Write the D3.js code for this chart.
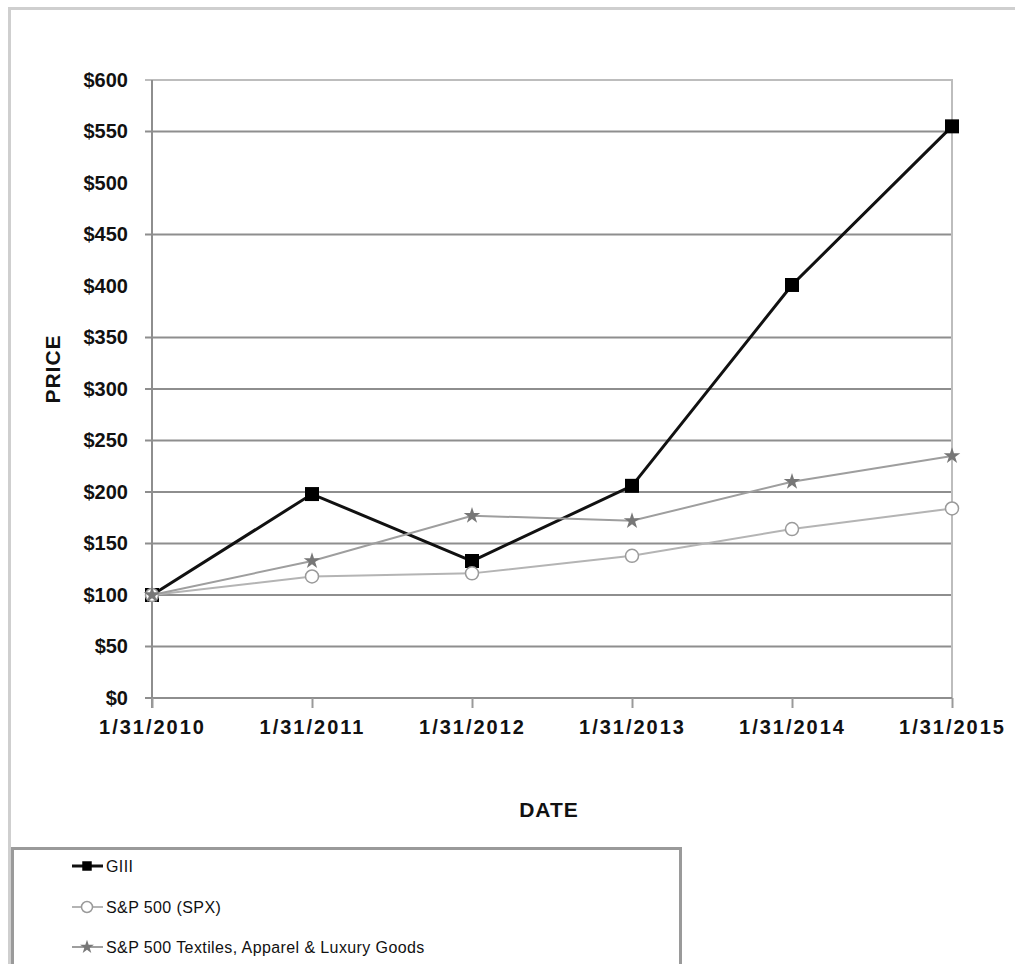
<!DOCTYPE html>
<html>
<head>
<meta charset="utf-8">
<script src="https://cdn.jsdelivr.net/npm/d3@7"></script>
<style>
  body { margin: 0; background: #fff; }
  svg text { font-family: "Liberation Sans", Arial, sans-serif; fill: #111; }
  .tick text { font-size: 20px; font-weight: bold; }
  .axisTitle { font-size: 21px; font-weight: bold; letter-spacing: 1px; }
  .legendText { font-size: 16px; letter-spacing: 0.4px; }
</style>
</head>
<body>
<div class="chart"></div>
<script>
// data
var dates = ["1/31/2010", "1/31/2011", "1/31/2012", "1/31/2013", "1/31/2014", "1/31/2015"];
var giii = [100, 198, 133, 206, 401, 555];
var spx = [100, 118, 121, 138, 164, 184];
var textiles = [100, 133, 177, 172, 210, 235];
var yTicks = [0, 50, 100, 150, 200, 250, 300, 350, 400, 450, 500, 550, 600];
// gridlines that show in the picture ($400 and $500 are missing there)
var gridValues = [50, 100, 150, 200, 250, 300, 350, 450, 550];
var seriesNames = ["GIII", "S&P 500 (SPX)", "S&P 500 Textiles, Apparel & Luxury Goods"];

var svgWidth = 1015;
var svgHeight = 964;

var plot = { left: 152, right: 952, top: 80, bottom: 698 };

var svg = d3.select(".chart")
    .append("svg")
    .attr("width", svgWidth)
    .attr("height", svgHeight);

// outer frame (runs off the right and bottom edge)
svg.append("rect")
    .attr("x", 9.5)
    .attr("y", 8.5)
    .attr("width", 1030)
    .attr("height", 1000)
    .attr("fill", "none")
    .attr("stroke", "#cfcfcf")
    .attr("stroke-width", 3);

var x = d3.scalePoint()
    .domain(dates)
    .range([plot.left, plot.right]);

var y = d3.scaleLinear()
    .domain([0, 600])
    .range([plot.bottom, plot.top]);

// gridlines
svg.append("g")
    .selectAll("line")
    .data(gridValues)
    .enter()
    .append("line")
    .attr("x1", plot.left - 7)
    .attr("x2", plot.right)
    .attr("y1", d => y(d))
    .attr("y2", d => y(d))
    .attr("stroke", "#8e8e8e")
    .attr("stroke-width", 2);

// plot area border top / right
svg.append("path")
    .attr("d", `M${plot.left - 7},${plot.top}H${plot.right}V${plot.bottom}`)
    .attr("fill", "none")
    .attr("stroke", "#bdbdbd")
    .attr("stroke-width", 2);

// y axis
var leftAxis = d3.axisLeft(y)
    .tickValues(yTicks)
    .tickSize(0)
    .tickPadding(24)
    .tickFormat(d => "$" + d);

var yAxisG = svg.append("g")
    .attr("transform", `translate(${plot.left}, 0)`)
    .call(leftAxis);
yAxisG.select(".domain").remove();

svg.append("line")
    .attr("x1", plot.left).attr("x2", plot.left)
    .attr("y1", plot.top).attr("y2", plot.bottom + 10)
    .attr("stroke", "#8e8e8e")
    .attr("stroke-width", 2);

// x axis
var bottomAxis = d3.axisBottom(x)
    .tickSize(10)
    .tickPadding(12);

var xAxisG = svg.append("g")
    .attr("transform", `translate(0, ${plot.bottom})`)
    .call(bottomAxis);
xAxisG.select(".domain")
    .attr("d", `M${plot.left - 7},0H${plot.right}`)
    .attr("stroke", "#8e8e8e")
    .attr("stroke-width", 2);
xAxisG.selectAll(".tick line")
    .attr("stroke", "#9a9a9a")
    .attr("stroke-width", 2);
xAxisG.selectAll(".tick text")
    .style("letter-spacing", "2px");

// axis titles
svg.append("text")
    .attr("class", "axisTitle")
    .attr("transform", "translate(60, 369) rotate(-90)")
    .attr("text-anchor", "middle")
    .text("PRICE");

svg.append("text")
    .attr("class", "axisTitle")
    .attr("x", 549)
    .attr("y", 817)
    .attr("text-anchor", "middle")
    .text("DATE");

// series
var line = d3.line()
    .x((d, i) => x(dates[i]))
    .y(d => y(d));

var square = d3.symbol().type(d3.symbolSquare).size(196);
var star = d3.symbol().type(d3.symbolStar).size(85);

// GIII
svg.append("path")
    .datum(giii)
    .attr("d", line)
    .attr("fill", "none")
    .attr("stroke", "#111")
    .attr("stroke-width", 3);
svg.append("g").selectAll("path")
    .data(giii)
    .enter()
    .append("path")
    .attr("d", square)
    .attr("transform", (d, i) => `translate(${x(dates[i])}, ${y(d)})`)
    .attr("fill", "#000");

// S&P 500
svg.append("path")
    .datum(spx)
    .attr("d", line)
    .attr("fill", "none")
    .attr("stroke", "#b4b4b4")
    .attr("stroke-width", 2);
svg.append("g").selectAll("circle")
    .data(spx)
    .enter()
    .append("circle")
    .attr("cx", (d, i) => x(dates[i]))
    .attr("cy", d => y(d))
    .attr("r", 6.5)
    .attr("fill", "#fff")
    .attr("stroke", "#9a9a9a")
    .attr("stroke-width", 1.5);

// Textiles
svg.append("path")
    .datum(textiles)
    .attr("d", line)
    .attr("fill", "none")
    .attr("stroke", "#9e9e9e")
    .attr("stroke-width", 2);
svg.append("g").selectAll("path")
    .data(textiles)
    .enter()
    .append("path")
    .attr("d", star)
    .attr("transform", (d, i) => `translate(${x(dates[i])}, ${y(d)})`)
    .attr("fill", "#777");

// legend
var legend = svg.append("g");

legend.append("rect")
    .attr("x", 12.5)
    .attr("y", 848.5)
    .attr("width", 668)
    .attr("height", 200)
    .attr("fill", "#fff")
    .attr("stroke", "#9a9a9a")
    .attr("stroke-width", 3);

var legendY = [866, 907, 947];
var legendStroke = ["#111", "#b4b4b4", "#9e9e9e"];
var legendWidth = [3, 2, 2];

seriesNames.forEach(function(name, i) {
    var ly = legendY[i];
    legend.append("line")
        .attr("x1", 72).attr("x2", 103)
        .attr("y1", ly).attr("y2", ly)
        .attr("stroke", legendStroke[i])
        .attr("stroke-width", legendWidth[i]);
    if (i === 0) {
        legend.append("path")
            .attr("d", d3.symbol().type(d3.symbolSquare).size(90))
            .attr("transform", `translate(87, ${ly})`)
            .attr("fill", "#000");
    } else if (i === 1) {
        legend.append("circle")
            .attr("cx", 87).attr("cy", ly).attr("r", 5.5)
            .attr("fill", "#fff")
            .attr("stroke", "#9a9a9a")
            .attr("stroke-width", 1.5);
    } else {
        legend.append("path")
            .attr("d", d3.symbol().type(d3.symbolStar).size(60))
            .attr("transform", `translate(87, ${ly})`)
            .attr("fill", "#777");
    }
    legend.append("text")
        .attr("class", "legendText")
        .attr("x", 106)
        .attr("y", ly + 5.5)
        .text(name);
});
</script>
</body>
</html>
